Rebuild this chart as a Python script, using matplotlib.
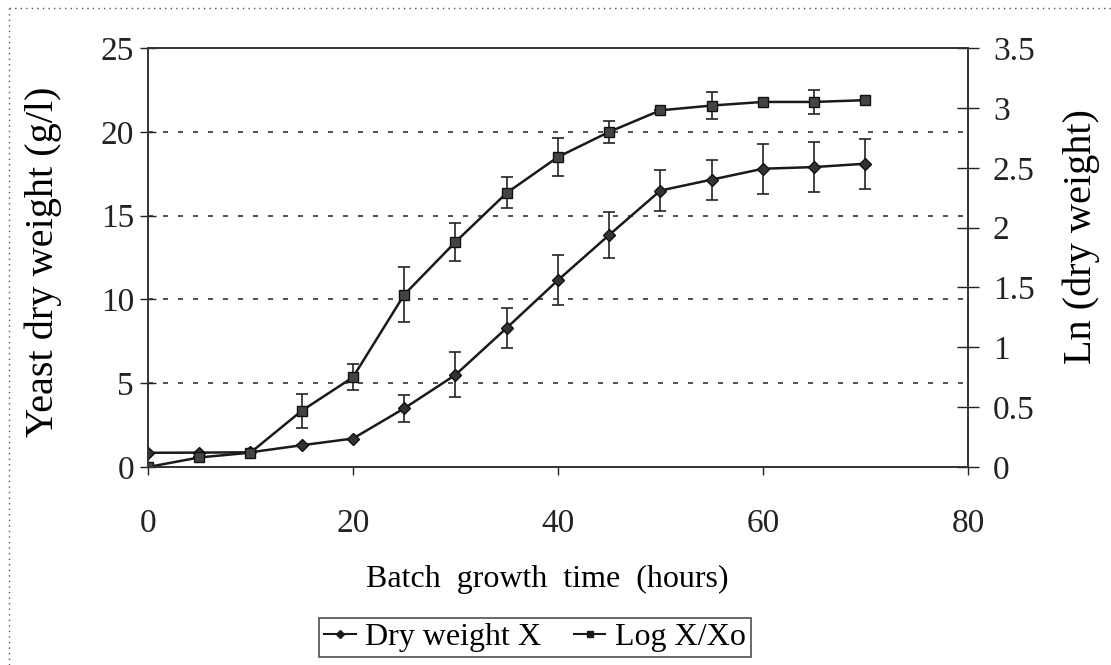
import matplotlib
matplotlib.use("Agg")
import matplotlib.pyplot as plt
from matplotlib.lines import Line2D

# batch growth data
hours = [0, 5, 10, 15, 20, 25, 30, 35, 40, 45, 50, 55, 60, 65, 70]
dry_weight = [0.85, 0.86, 0.88, 1.3, 1.7, 3.5, 5.5, 8.3, 11.15, 13.85, 16.5, 17.15, 17.8, 17.9, 18.1]
dry_err = [0, 0, 0, 0, 0, 0.8, 1.35, 1.2, 1.5, 1.35, 1.25, 1.2, 1.5, 1.5, 1.5]
log_x = [0.0, 0.08, 0.12, 0.47, 0.75, 1.44, 1.88, 2.29, 2.59, 2.8, 2.98, 3.02, 3.05, 3.05, 3.065]
log_err = [0, 0, 0, 0.14, 0.11, 0.23, 0.16, 0.13, 0.16, 0.09, 0, 0.11, 0, 0.1, 0]

plt.rcParams['font.family'] = ['Liberation Serif', 'DejaVu Serif']
tick_fs = 24
lab_fs = 29

fig = plt.figure(figsize=(11.11, 6.65), dpi=100)
ax = fig.add_axes([0.1332, 0.2977, 0.738, 0.630])
ax2 = ax.twinx()

ax.errorbar(hours, dry_weight, yerr=dry_err, fmt='none', ecolor='#222222',
            elinewidth=1.2, capsize=4, capthick=1.2)
l1, = ax.plot(hours, dry_weight, color='#1a1a1a', lw=1.8, marker='D',
              markersize=6, markerfacecolor='#333333', markeredgecolor='#111111')

ax2.errorbar(hours, log_x, yerr=log_err, fmt='none', ecolor='#222222',
             elinewidth=1.2, capsize=4, capthick=1.2)
l2, = ax2.plot(hours, log_x, color='#1a1a1a', lw=1.8, marker='s',
               markersize=7, markerfacecolor='#444444', markeredgecolor='#111111')

ax.set_xlim(0, 80)
ax.set_ylim(0, 25)
ax2.set_ylim(0, 3.5)
ax.set_xticks([0, 20, 40, 60, 80])
ax.set_yticks([0, 5, 10, 15, 20, 25])
ax2.set_yticks([0, 0.5, 1, 1.5, 2, 2.5, 3, 3.5])
ax2.set_yticklabels(['0', '0.5', '1', '1.5', '2', '2.5', '3', '3.5'])

for y in [5, 10, 15, 20]:
    ax.axhline(y, color='#333333', lw=1.2, linestyle=(0, (3, 6)), zorder=0)

ax.tick_params(axis='x', labelsize=tick_fs, direction='out', length=6, width=1,
               colors='#222222', pad=24)
ax.tick_params(axis='y', labelsize=tick_fs, direction='inout', length=12, width=1,
               colors='#222222', pad=4)
ax2.tick_params(axis='y', labelsize=tick_fs, direction='inout', length=16, width=1,
                colors='#222222', pad=10)

for a in (ax, ax2):
    for s in a.spines.values():
        s.set_color('#333333')
        s.set_linewidth(1.2)

fig.text(0.4925, 0.129, 'Batch  growth  time  (hours)', fontsize=23,
         ha='center', va='center')
fig.text(0.039, 0.607, 'Yeast dry weight (g/l)', fontsize=lab_fs,
         rotation=90, ha='center', va='center')
fig.text(0.973, 0.645, 'Ln (dry weight)', fontsize=lab_fs,
         rotation=90, ha='center', va='center')

h1 = Line2D([], [], color='#1a1a1a', lw=1.5, marker='D', markersize=4)
h2 = Line2D([], [], color='#1a1a1a', lw=1.5, marker='s', markersize=4)
leg = fig.legend([h1, h2], ['Dry weight X', 'Log X/Xo'], loc='center',
                 bbox_to_anchor=(0.4815, 0.041), ncol=2, fontsize=23,
                 frameon=True, fancybox=False, edgecolor='#222222',
                 handlelength=1.0, handletextpad=0.3, columnspacing=1.0,
                 borderpad=0.15, borderaxespad=0)
leg.get_frame().set_linewidth(1.2)

# dotted frame around the figure (top and left are visible)
fig.add_artist(Line2D([0.008, 1.0], [0.988, 0.988], transform=fig.transFigure,
                      color='#555555', lw=1, linestyle=(0, (1, 3))))
fig.add_artist(Line2D([0.008, 0.008], [0.0, 0.988], transform=fig.transFigure,
                      color='#555555', lw=1, linestyle=(0, (1, 3))))

fig.savefig('out.png', dpi=100)
